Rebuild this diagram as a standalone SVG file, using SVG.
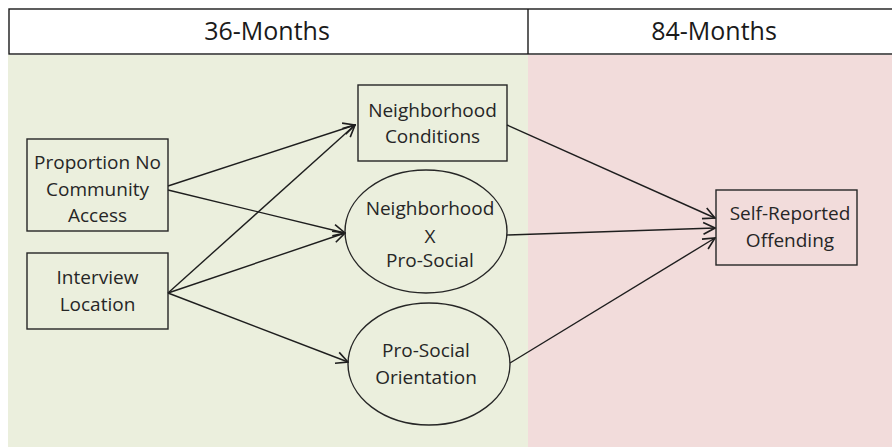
<svg xmlns="http://www.w3.org/2000/svg" width="892" height="447" viewBox="0 0 892 447">
  <defs>
    <marker id="arrow" markerUnits="userSpaceOnUse" markerWidth="14" markerHeight="14" viewBox="0 0 12 12" refX="11" refY="6" orient="auto">
      <path d="M1,1 L11,6 L1,11" fill="none" stroke="#1e1e1e" stroke-width="1.4"/>
    </marker>
    <style>
      .box { fill: none; stroke: #262626; stroke-width: 1.4; }
      .lbl { font-family: "Open Sans", "Liberation Sans", sans-serif; font-size: 19px; fill: #262626; text-anchor: middle; }
      .hdr { font-family: "Open Sans", "Liberation Sans", sans-serif; font-size: 25px; fill: #1a1a1a; text-anchor: middle; }
      .edge { stroke: #1e1e1e; stroke-width: 1.4; fill: none; marker-end: url(#arrow); }
    </style>
  </defs>

  <!-- period backgrounds -->
  <rect x="0" y="0" width="892" height="447" fill="#ffffff"/>
  <rect x="8" y="55" width="520" height="392" fill="#EBEFDD"/>
  <rect x="528" y="55" width="364" height="392" fill="#F2DCDB"/>

  <!-- header row -->
  <g id="header">
    <rect x="9" y="9" width="900" height="45" fill="#ffffff" stroke="#1a1a1a" stroke-width="1.4"/>
    <line x1="528" y1="9" x2="528" y2="54" stroke="#1a1a1a" stroke-width="1.4"/>
    <text class="hdr" x="267" y="40">36-Months</text>
    <text class="hdr" x="714" y="40">84-Months</text>
  </g>

  <!-- connectors -->
  <g id="connectors">
    <line class="edge" x1="168" y1="186" x2="355" y2="125"/>
    <line class="edge" x1="168" y1="190" x2="345" y2="233"/>
    <line class="edge" x1="168" y1="293" x2="355" y2="125"/>
    <line class="edge" x1="168" y1="293" x2="345" y2="233"/>
    <line class="edge" x1="168" y1="293" x2="348" y2="362"/>
    <line class="edge" x1="507" y1="125" x2="715" y2="218"/>
    <line class="edge" x1="507" y1="235" x2="715" y2="228"/>
    <line class="edge" x1="510" y1="363" x2="715" y2="238"/>
  </g>

  <!-- nodes -->
  <g id="proportion-no-community-access">
    <rect class="box" x="27" y="139" width="141" height="92"/>
    <text class="lbl" x="97.5" y="169">Proportion No</text>
    <text class="lbl" x="97.5" y="196">Community</text>
    <text class="lbl" x="97.5" y="222">Access</text>
  </g>

  <g id="interview-location">
    <rect class="box" x="27" y="253" width="141" height="76"/>
    <text class="lbl" x="97.5" y="284">Interview</text>
    <text class="lbl" x="97.5" y="311">Location</text>
  </g>

  <g id="neighborhood-conditions">
    <rect class="box" x="358" y="85" width="149" height="76"/>
    <text class="lbl" x="432.5" y="117">Neighborhood</text>
    <text class="lbl" x="432.5" y="143">Conditions</text>
  </g>

  <g id="neighborhood-x-prosocial">
    <ellipse class="box" cx="426" cy="231.5" rx="81" ry="61.5"/>
    <text class="lbl" x="430" y="215">Neighborhood</text>
    <text class="lbl" x="430" y="243">X</text>
    <text class="lbl" x="430" y="267">Pro-Social</text>
  </g>

  <g id="prosocial-orientation">
    <ellipse class="box" cx="429" cy="364" rx="81" ry="61"/>
    <text class="lbl" x="426" y="357">Pro-Social</text>
    <text class="lbl" x="426" y="384">Orientation</text>
  </g>

  <g id="self-reported-offending">
    <rect class="box" x="716" y="190" width="141" height="75"/>
    <text class="lbl" x="790" y="220">Self-Reported</text>
    <text class="lbl" x="790" y="247">Offending</text>
  </g>
</svg>
